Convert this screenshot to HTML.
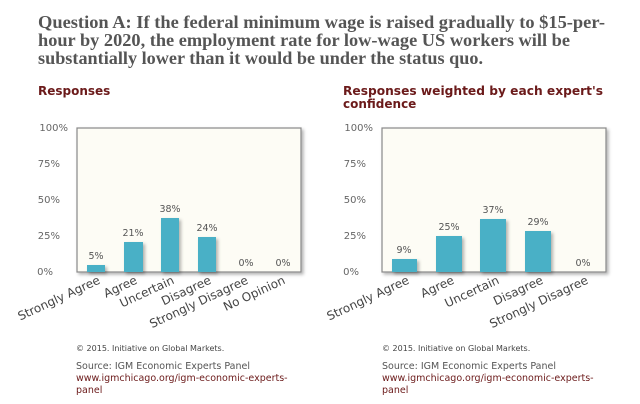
<!DOCTYPE html>
<html><head><meta charset="utf-8"><style>
body{margin:0;background:#fff;width:640px;height:404px;overflow:hidden}
svg{display:block}
</style></head><body>
<svg width="640" height="404" xmlns="http://www.w3.org/2000/svg" font-family="Verdana, 'DejaVu Sans', sans-serif">
<defs><filter id="sh" x="-20%" y="-20%" width="150%" height="150%"><feDropShadow dx="2" dy="2" stdDeviation="1.5" flood-color="#000" flood-opacity="0.3"/></filter></defs>
<g font-family="'Liberation Serif', serif" font-weight="bold" font-size="18" fill="#555">
<text x="38" y="28" textLength="567" lengthAdjust="spacingAndGlyphs">Question A: If the federal minimum wage is raised gradually to $15-per-</text>
<text x="38" y="46" textLength="532" lengthAdjust="spacingAndGlyphs">hour by 2020, the employment rate for low-wage US workers will be</text>
<text x="38" y="64" textLength="445" lengthAdjust="spacingAndGlyphs">substantially lower than it would be under the status quo.</text>
</g>
<g font-weight="bold" font-size="12" fill="#6b1a1a">
<text x="38" y="95">Responses</text>
<text x="343" y="95" textLength="260" lengthAdjust="spacingAndGlyphs">Responses weighted by each expert's</text>
<text x="343" y="108">confidence</text>
</g>
<rect x="77" y="128" width="224" height="144" fill="#fdfcf5" stroke="#888" stroke-width="1.2" filter="url(#sh)"/>
<g font-size="10" fill="#666" text-anchor="end">
<text x="68" y="131">100%</text><text x="60" y="167">75%</text><text x="60" y="203">50%</text><text x="60" y="239">25%</text><text x="53" y="275">0%</text>
<text x="373" y="131">100%</text><text x="366" y="167">75%</text><text x="366" y="203">50%</text><text x="366" y="239">25%</text><text x="359" y="275">0%</text>
</g>
<g fill="#4ab0c6" filter="url(#sh)">
<rect x="87" y="265" width="18" height="7"/>
<rect x="124" y="242" width="19" height="30"/>
<rect x="161" y="218" width="18" height="54"/>
<rect x="198" y="237" width="18" height="35"/>
</g>
<g font-size="9.5" fill="#555" text-anchor="middle">
<text x="96" y="259">5%</text><text x="133" y="236">21%</text><text x="170" y="212">38%</text><text x="207" y="231">24%</text><text x="246" y="266">0%</text><text x="283" y="266">0%</text>
</g>
<g font-size="12" fill="#444" text-anchor="end">
<text transform="translate(101,283) rotate(-25)">Strongly Agree</text>
<text transform="translate(138,283) rotate(-25)">Agree</text>
<text transform="translate(175,283) rotate(-25)">Uncertain</text>
<text transform="translate(212,283) rotate(-25)">Disagree</text>
<text transform="translate(249,283) rotate(-25)">Strongly Disagree</text>
<text transform="translate(286,283) rotate(-25)">No Opinion</text>
</g>
<rect x="382" y="128" width="224" height="144" fill="#fdfcf5" stroke="#888" stroke-width="1.2" filter="url(#sh)"/>
<g fill="#4ab0c6" filter="url(#sh)">
<rect x="392" y="259" width="25" height="13"/>
<rect x="436" y="236" width="26" height="36"/>
<rect x="480" y="219" width="26" height="53"/>
<rect x="525" y="231" width="26" height="41"/>
</g>
<g font-size="9.5" fill="#555" text-anchor="middle">
<text x="404" y="253">9%</text><text x="449" y="230">25%</text><text x="493" y="213">37%</text><text x="538" y="225">29%</text><text x="583" y="266">0%</text>
</g>
<g font-size="12" fill="#444" text-anchor="end">
<text transform="translate(410,283) rotate(-25)">Strongly Agree</text>
<text transform="translate(455,283) rotate(-25)">Agree</text>
<text transform="translate(500,283) rotate(-25)">Uncertain</text>
<text transform="translate(544,283) rotate(-25)">Disagree</text>
<text transform="translate(589,283) rotate(-25)">Strongly Disagree</text>
</g>
<g font-size="8" fill="#444"><text x="76" y="351">© 2015. Initiative on Global Markets.</text><text x="382" y="351">© 2015. Initiative on Global Markets.</text></g>
<g font-size="9.5">
<text x="76" y="369" fill="#555">Source: IGM Economic Experts Panel</text>
<text x="76" y="381" fill="#6b1a1a">www.igmchicago.org/igm-economic-experts-</text>
<text x="76" y="393" fill="#6b1a1a">panel</text>
<text x="382" y="369" fill="#555">Source: IGM Economic Experts Panel</text>
<text x="382" y="381" fill="#6b1a1a">www.igmchicago.org/igm-economic-experts-</text>
<text x="382" y="393" fill="#6b1a1a">panel</text>
</g>
</svg>
</body></html>
